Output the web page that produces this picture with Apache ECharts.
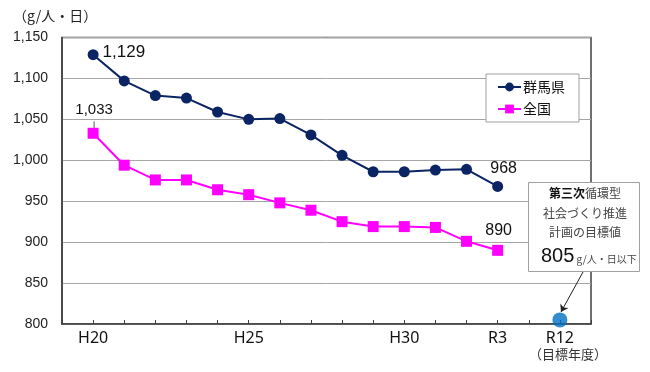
<!DOCTYPE html>
<html><head><meta charset="utf-8">
<script src="https://cdn.jsdelivr.net/npm/echarts@6/dist/echarts.min.js"></script>
<style>html,body{margin:0;padding:0;background:#fff}#c{width:650px;height:372px}</style>
</head><body><div id="c"></div>
<script>
const years = ['H20','H21','H22','H23','H24','H25','H26','H27','H28','H29','H30','R1','R2','R3'];
const gunma = [1129,1097,1079,1076,1059,1050,1051,1031,1006,986,986,988,989,968];
const national = [1033,994,976,976,964,958,948,939,925,919,919,918,901,890];
const targetYear = 'R12';
const targetValue = 805;
const shownTickLabels = ['H20','H25','H30','R3','R12'];
const yTicks = {min:800, max:1150, interval:50};
const categories = [' '].concat(years, ['  ', targetYear, '   ']);

const JP = '"Noto Sans CJK JP", "Noto Sans", sans-serif';
const chart = echarts.init(document.getElementById('c'), null, {renderer:'canvas'});
const fmt = v => v.toLocaleString('en-US');

const gunmaData = gunma.map((v,i)=>{
  const d = {value:[years[i], v]};
  if (i===0) d.label = {show:true, position:'right', distance:4, offset:[0,-2], fontSize:17, color:'#111', fontFamily:'Liberation Sans, Arial', formatter: p=>fmt(p.value[1])};
  if (i===gunma.length-1) d.label = {show:true, position:'top', distance:5, offset:[6,1], fontSize:16, color:'#111', fontFamily:'Liberation Sans, Arial', formatter: p=>fmt(p.value[1])};
  return d;
});
const nationalData = national.map((v,i)=>{
  const d = {value:[years[i], v]};
  if (i===0) d.label = {show:true, position:'top', distance:10, offset:[1,0], fontSize:15, color:'#111', fontFamily:'Liberation Sans, Arial', formatter: p=>fmt(p.value[1])};
  if (i===national.length-1) d.label = {show:true, position:'top', distance:5, offset:[1,-1], fontSize:16, color:'#111', fontFamily:'Liberation Sans, Arial', formatter: p=>fmt(p.value[1])};
  return d;
});

const graphics = [
  {id:'yunit', type:'text', left:13, top:9, style:{text:'（g/人・日）', font:'14px '+JP, fill:'#222'}},
  {id:'box', type:'rect', shape:{x:528.5, y:182.5, width:111, height:89}, style:{fill:'#fff', stroke:'#a0a0a0', lineWidth:1}, z:100},
  {id:'t1', type:'text', x:585, y:193, z:101, style:{text:'{b|第三次}{n|循環型}', align:'center', verticalAlign:'middle',
     rich:{b:{font:'bold 12px '+JP, fill:'#111'}, n:{font:'12px '+JP, fill:'#444'}}}},
  {id:'t2', type:'text', x:585, y:213, z:101, style:{text:'社会づくり推進', align:'center', verticalAlign:'middle', font:'12px '+JP, fill:'#444'}},
  {id:'t3', type:'text', x:585, y:232, z:101, style:{text:'計画の目標値', align:'center', verticalAlign:'middle', font:'12px '+JP, fill:'#444'}},
  {id:'t4', type:'text', x:541, y:256, z:101, style:{text:'{a|'+targetValue+'}{s| g/人・日以下}', verticalAlign:'middle',
     rich:{a:{font:'20px Liberation Sans, Arial', fill:'#111'}, s:{font:'10px '+JP, fill:'#444', padding:[6,0,0,0]}}}}
];

const option = {
  animation:false,
  backgroundColor:'#fff',
  grid:{left:62, right:59, top:37.5, bottom:48, show:true, borderColor:'#404040', borderWidth:1.5, backgroundColor:'transparent'},
  legend:{
    data:['群馬県','全国'], orient:'vertical', left:486, top:74,
    backgroundColor:'#fff', borderColor:'#a0a0a0', borderWidth:1,
    padding:[6,14,6,11], itemGap:8, itemWidth:23, itemHeight:11,
    textStyle:{fontFamily:JP, fontSize:14, color:'#111', padding:[0,0,0,-3]}
  },
  xAxis:{
    type:'category', data:categories, boundaryGap:false,
    axisLine:{lineStyle:{color:'#404040', width:1.5}},
    axisTick:{show:true, inside:true, length:4, interval:0, lineStyle:{color:'#404040'}},
    axisLabel:{interval:0, margin:6, fontSize:16, color:'#111', fontFamily:'"Noto Sans", sans-serif',
      formatter: v => shownTickLabels.includes(v) ? (v===targetYear ? v+'\n{s|（目標年度）}' : v) : '',
      rich:{s:{fontSize:13, fontFamily:JP, color:'#333', padding:[2,0,0,16]}}},
    splitLine:{show:false}
  },
  yAxis:{
    type:'value', min:yTicks.min, max:yTicks.max, interval:yTicks.interval,
    axisLine:{show:true, lineStyle:{color:'#404040', width:1.5}},
    axisTick:{show:false},
    axisLabel:{margin:14, fontSize:14, color:'#222', fontFamily:'Liberation Sans, Arial', formatter: fmt},
    splitLine:{lineStyle:{color:'#a6a6a6', width:1}}
  },
  series:[
    {name:'群馬県', type:'line', data:gunmaData, symbol:'circle', symbolSize:11,
     lineStyle:{color:'#0B2463', width:2}, itemStyle:{color:'#0B2463'}, z:3},
    {name:'全国', type:'line', data:nationalData, symbol:'rect', symbolSize:11,
     lineStyle:{color:'#FF00FF', width:2}, itemStyle:{color:'#FF00FF'}, z:2},
    {name:'目標', type:'scatter', data:[[targetYear, targetValue]], symbol:'circle', symbolSize:15,
     itemStyle:{color:'#0070C0'}, z:4,
     markLine:{silent:true, symbol:['none','arrow'], symbolSize:7, label:{show:false},
       lineStyle:{color:'#222', width:1, type:'solid'},
       data:[[{x:583, y:272}, {x:561, y:312}]]}}
  ],
  graphic: graphics
};
chart.setOption(option);
const p = chart.convertToPixel({xAxisIndex:0, yAxisIndex:0}, [years[0], national[0]]);
chart.setOption({graphic:[{id:'leader', type:'line', shape:{x1:p[0]+1, y1:p[1]-12, x2:p[0]+1, y2:p[1]}, style:{stroke:'#555', lineWidth:1}, z:1}]});
</script></body></html>
